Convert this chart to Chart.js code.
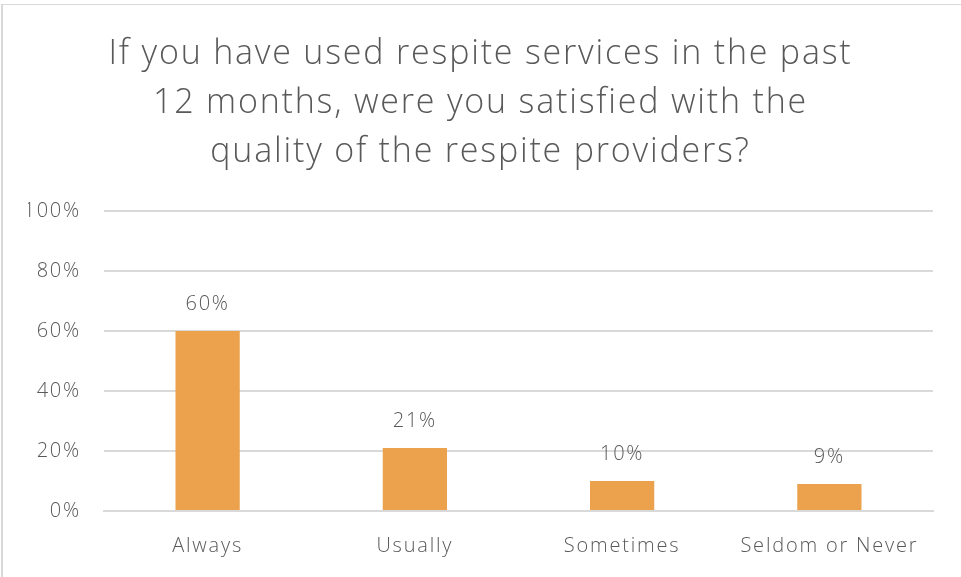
<!DOCTYPE html>
<html>
<head>
<meta charset="utf-8">
<script src="https://cdn.jsdelivr.net/npm/chart.js@4"></script>
<style>
  html, body { margin: 0; padding: 0; background: #fff; }
  #wrap { position: absolute; left: 0; top: 0; width: 961px; height: 577px; }
  #frame { position: absolute; left: 1px; top: 4px; width: 960px; height: 573px; border-left: 2px solid #d9d9d9; border-top: 1px solid #d9d9d9; box-sizing: border-box; pointer-events: none; }
  canvas { display: block; }
</style>
</head>
<body>
<div id="wrap"><canvas id="c" width="961" height="577"></canvas><div id="frame"></div></div>
<script>
const titleLines = ["If you have used respite services in the past", "12 months, were you satisfied with the", "quality of the respite providers?"];
const categories = ["Always", "Usually", "Sometimes", "Seldom or Never"];
const values = [60, 21, 10, 9];
const yTicks = [0, 20, 40, 60, 80, 100];

const FONT = "'Open Sans'";
const spacingPlugin = {
  id: 'spacing',
  beforeLayout(chart) { chart.ctx.letterSpacing = '1.8px'; },
  beforeDraw(chart) { chart.ctx.letterSpacing = '1.8px'; }
};
const labelPlugin = {
  id: 'valueLabels',
  afterDatasetsDraw(chart) {
    const ctx = chart.ctx;
    const meta = chart.getDatasetMeta(0);
    ctx.save();
    ctx.letterSpacing = '1.8px';
    ctx.font = "300 20px " + FONT;
    ctx.fillStyle = "#595959";
    ctx.textAlign = "center";
    ctx.textBaseline = "middle";
    meta.data.forEach((bar, i) => {
      ctx.fillText(values[i] + "%", bar.x, bar.y - 27);
    });
    ctx.restore();
  }
};

new Chart(document.getElementById('c'), {
  type: 'bar',
  data: {
    labels: categories,
    datasets: [{
      data: values,
      backgroundColor: '#eca14c',
      borderWidth: 0,
      barPercentage: 0.62,
      categoryPercentage: 0.5
    }]
  },
  options: {
    responsive: false,
    animation: false,
    layout: { padding: { left: 28, right: 28, top: 0, bottom: 0 } },
    plugins: {
      legend: { display: false },
      tooltip: { enabled: false },
      title: {
        display: true,
        text: titleLines,
        color: '#595959',
        font: { family: FONT, size: 34, weight: '300', lineHeight: 1.44 },
        padding: { top: 30, bottom: 34 }
      }
    },
    scales: {
      x: {
        grid: { display: false, drawTicks: false },
        border: { display: true, color: '#d9d9d9', width: 2 },
        ticks: { color: '#595959', font: { family: FONT, size: 20, weight: '300' }, padding: 23 },
        afterFit(s) { s.height = 66; }
      },
      y: {
        min: 0, max: 100,
        afterBuildTicks(s) { s.ticks = yTicks.map(v => ({ value: v })); },
        grid: { color: '#d9d9d9', lineWidth: 2, drawTicks: false },
        border: { display: false },
        ticks: {
          color: '#595959',
          font: { family: FONT, size: 20, weight: '300' },
          padding: 23,
          callback: v => v + '%'
        },
        afterFit(s) { s.width = 76; }
      }
    }
  },
  plugins: [spacingPlugin, labelPlugin]
});
</script>
</body>
</html>
